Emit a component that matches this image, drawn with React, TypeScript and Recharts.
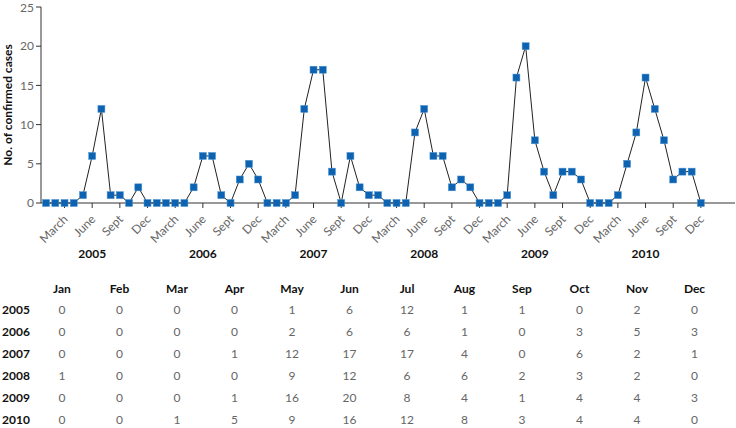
import React from 'react'
import { CartesianGrid, Line, LineChart, XAxis, YAxis } from 'recharts'

const MONTHS = ['Jan', 'Feb', 'Mar', 'Apr', 'May', 'Jun', 'Jul', 'Aug', 'Sep', 'Oct', 'Nov', 'Dec']
const YEARS = [2005, 2006, 2007, 2008, 2009, 2010]

// table rows, as printed
const cases2005 = [0, 0, 0, 0, 1, 6, 12, 1, 1, 0, 2, 0]
const cases2006 = [0, 0, 0, 0, 2, 6, 6, 1, 0, 3, 5, 3]
const cases2007 = [0, 0, 0, 1, 12, 17, 17, 4, 0, 6, 2, 1]
const cases2008 = [1, 0, 0, 0, 9, 12, 6, 6, 2, 3, 2, 0]
const cases2009 = [0, 0, 0, 1, 16, 20, 8, 4, 1, 4, 4, 3]
const cases2010 = [0, 0, 1, 5, 9, 16, 12, 8, 3, 4, 4, 0]
const TABLE = [cases2005, cases2006, cases2007, cases2008, cases2009, cases2010]

// the printed curve puts 2009 one month early compared with the table
const plotted2009 = [0, 0, 1, 16, 20, 8, 4, 1, 4, 4, 3, 0]
const PLOTTED = [cases2005, cases2006, cases2007, cases2008, plotted2009, cases2010]

const TICK_MONTHS = [2, 5, 8, 11]
const TICK_NAMES = ['March', 'June', 'Sept', 'Dec']
const Y_TICKS = [0, 5, 10, 15, 20, 25]

const MARKER = '#0d63b1'
const FONT = 'Lato, "Open Sans", sans-serif'

const data = PLOTTED.flatMap((row, y) => row.map((v, m) => ({ i: y * 12 + m, cases: v })))
const xTicks = YEARS.flatMap((_, y) => TICK_MONTHS.map((m) => y * 12 + m))

function Square(props: any) {
  const { cx, cy } = props
  if (cx == null || cy == null) return null
  return <rect x={cx - 3.5} y={cy - 3.5} width={7} height={7} fill={MARKER} stroke="#4f95d2" strokeWidth={0.5} />
}

function MonthTick(props: any) {
  const { x, y, payload } = props
  const idx = payload.value as number
  const m = idx % 12
  const name = TICK_NAMES[TICK_MONTHS.indexOf(m)]
  const year = YEARS[Math.floor(idx / 12)]
  return (
    <g>
      <text
        x={x + 4}
        y={y + 10}
        textAnchor="end"
        transform={`rotate(-45 ${x + 4} ${y + 10})`}
        fontSize={12}
        fill="#666"
        fontFamily={FONT}
      >
        {name}
      </text>
      {m === 5 && (
        <text x={x} y={y + 48} textAnchor="middle" fontSize={12} fontWeight={700} fill="#111" fontFamily={FONT}>
          {year}
        </text>
      )}
    </g>
  )
}

const cell: React.CSSProperties = {
  position: 'absolute',
  width: 50,
  marginLeft: -25,
  textAlign: 'center',
  fontSize: 12,
  lineHeight: '14px',
  marginTop: -7,
}

export default function App() {
  return (
    <div
      style={{
        position: 'fixed',
        left: 0,
        top: 0,
        width: 736,
        height: 428,
        background: '#fff',
        fontFamily: FONT,
        overflow: 'hidden',
      }}
    >
      <LineChart width={736} height={270} data={data} margin={{ top: 7, right: 1, left: 0, bottom: 0 }}>
        <CartesianGrid stroke="none" />
        <XAxis
          type="number"
          dataKey="i"
          domain={[-0.55, 74.7]}
          ticks={xTicks}
          interval={0}
          height={67}
          tick={<MonthTick />}
          tickSize={5}
          tickLine={{ stroke: '#333' }}
          axisLine={{ stroke: '#333' }}
        />
        <YAxis
          type="number"
          domain={[0, 25]}
          ticks={Y_TICKS}
          width={41}
          tickSize={5}
          tick={{ fontSize: 12, fill: '#666', fontFamily: FONT }}
          tickLine={{ stroke: '#333' }}
          axisLine={{ stroke: '#333' }}
          label={{
            value: 'No. of confirmed cases',
            angle: -90,
            position: 'insideLeft',
            offset: 0,
            dx: 8,
            style: { fontSize: 12, fontWeight: 700, fill: '#111', fontFamily: FONT, textAnchor: 'middle' },
          }}
        />
        <Line
          type="linear"
          dataKey="cases"
          stroke="#222"
          strokeWidth={1}
          dot={<Square />}
          activeDot={false}
          isAnimationActive={false}
        />
      </LineChart>

      {MONTHS.map((mo, m) => (
        <div key={mo} style={{ ...cell, left: 62 + 57.5 * m, top: 289, fontWeight: 700, color: '#111' }}>
          {mo}
        </div>
      ))}
      {YEARS.map((yr, r) => (
        <React.Fragment key={yr}>
          <div
            style={{
              position: 'absolute',
              left: 2,
              top: 310 + 21.9 * r,
              marginTop: -7,
              fontSize: 12,
              lineHeight: '14px',
              fontWeight: 700,
              color: '#111',
            }}
          >
            {yr}
          </div>
          {TABLE[r].map((v, m) => (
            <div key={m} style={{ ...cell, left: 62 + 57.5 * m, top: 310 + 21.9 * r, color: '#666' }}>
              {v}
            </div>
          ))}
        </React.Fragment>
      ))}
    </div>
  )
}
